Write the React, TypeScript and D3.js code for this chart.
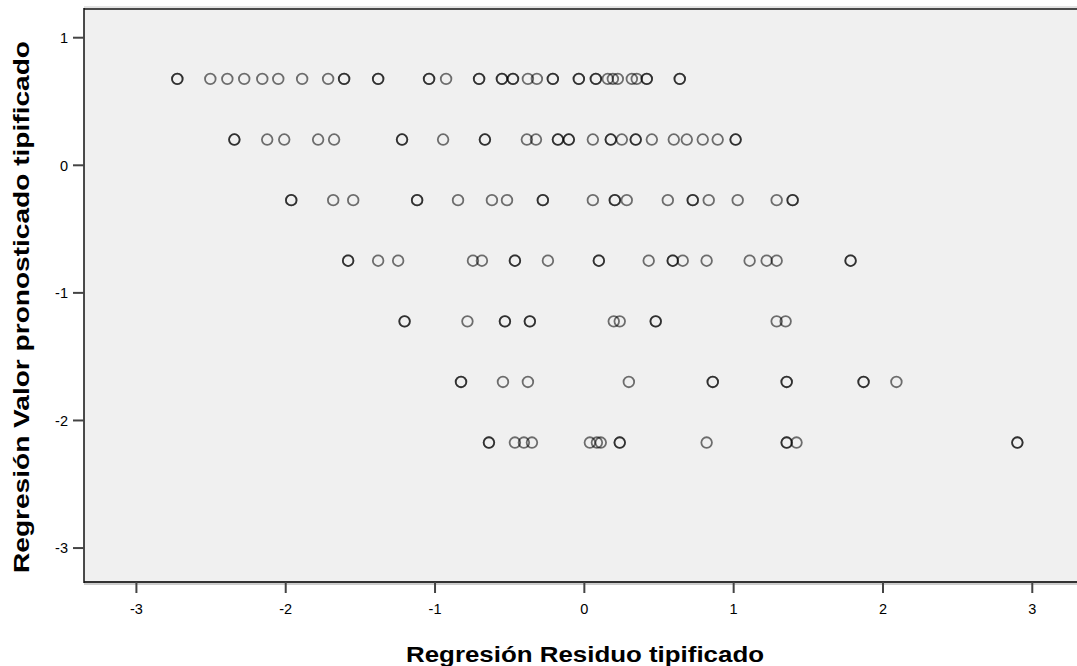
import React from "react";
import * as d3 from "d3";

// Predicted (standardized) levels, one per row of points
const predLevels = [0.677, 0.202, -0.273, -0.748, -1.223, -1.698, -2.173];

// Standardized residuals per predicted level (duplicates = overlapping cases)
const resid1 = [-2.726, -2.726, -2.505, -2.391, -2.278, -2.157, -2.05, -1.89, -1.716, -1.609, -1.609, -1.381, -1.381, -1.04, -1.04, -0.926, -0.705, -0.705, -0.552, -0.552, -0.478, -0.478, -0.378, -0.318, -0.211, -0.211, -0.037, -0.037, 0.077, 0.077, 0.157, 0.191, 0.224, 0.318, 0.351, 0.418, 0.418, 0.639, 0.639];
const resid2 = [-2.344, -2.344, -2.124, -2.01, -1.783, -1.676, -1.221, -1.221, -0.946, -0.666, -0.666, -0.385, -0.324, -0.177, -0.177, -0.104, -0.104, 0.057, 0.177, 0.177, 0.251, 0.344, 0.344, 0.452, 0.599, 0.686, 0.793, 0.893, 1.013, 1.013];
const resid3 = [-1.963, -1.963, -1.682, -1.548, -1.12, -1.12, -0.846, -0.619, -0.518, -0.278, -0.278, 0.057, 0.204, 0.204, 0.284, 0.559, 0.726, 0.726, 0.833, 1.027, 1.288, 1.395, 1.395];
const resid4 = [-1.582, -1.582, -1.381, -1.247, -0.746, -0.686, -0.465, -0.465, -0.244, 0.097, 0.097, 0.431, 0.592, 0.592, 0.659, 0.819, 1.107, 1.221, 1.288, 1.783, 1.783];
const resid5 = [-1.204, -1.204, -0.783, -0.532, -0.532, -0.365, -0.365, 0.197, 0.237, 0.478, 0.478, 1.288, 1.348];
const resid6 = [-0.826, -0.826, -0.545, -0.378, 0.298, 0.86, 0.86, 1.355, 1.355, 1.87, 1.87, 2.09];
const resid7 = [-0.639, -0.639, -0.465, -0.405, -0.351, 0.037, 0.084, 0.11, 0.237, 0.237, 0.819, 1.355, 1.355, 1.421, 2.9, 2.9];

const residRows = [resid1, resid2, resid3, resid4, resid5, resid6, resid7];

const xTicks = [-3, -2, -1, 0, 1, 2, 3];
const yTicks = [1, 0, -1, -2, -3];

const xTitle = "Regresión Residuo tipificado";
const yTitle = "Regresión Valor pronosticado tipificado";

const W = 1077;
const H = 666;
const plot = { left: 84, top: 9, right: 1095, bottom: 582 };

export default function App() {
  const x = d3.scaleLinear().domain([-3.351, 3.42]).range([plot.left, plot.right]);
  const y = d3.scaleLinear().domain([1.225, -3.266]).range([plot.top, plot.bottom]);

  const points: { x: number; y: number }[] = [];
  residRows.forEach((row, i) => {
    row.forEach((r) => points.push({ x: r, y: predLevels[i] }));
  });

  const font = "'Liberation Sans', Arial, sans-serif";
  const fmt = (t: number) => String(t);

  return (
    <div style={{ position: "absolute", left: 0, top: 0 }}>
      <svg width={W} height={H} style={{ display: "block", background: "#ffffff" }}>
        <rect x={plot.left} y={plot.top} width={plot.right - plot.left} height={plot.bottom - plot.top} fill="#f0f0f0" />
        {/* borders */}
        <line x1={plot.left} x2={W + 20} y1={plot.top - 2} y2={plot.top - 2} stroke="#c8c8c8" strokeWidth={1} />
        <line x1={plot.left} x2={W + 20} y1={plot.top} y2={plot.top} stroke="#4a4a4a" strokeWidth={2} />
        <line x1={plot.left} x2={W + 20} y1={plot.bottom} y2={plot.bottom} stroke="#333" strokeWidth={2} />
        <line x1={plot.left} x2={W + 20} y1={plot.bottom + 2} y2={plot.bottom + 2} stroke="#9a9a9a" strokeWidth={1} />
        <line x1={plot.left} x2={plot.left} y1={plot.top - 1} y2={plot.bottom + 1} stroke="#111" strokeWidth={1.5} />

        {/* y axis ticks */}
        {yTicks.map((t) => (
          <g key={"y" + t}>
            <line x1={plot.left - 11} x2={plot.left} y1={y(t)} y2={y(t)} stroke="#444" strokeWidth={2} />
            <text x={plot.left - 16} y={y(t)} dy="0.36em" textAnchor="end" fontFamily={font} fontSize={14.5} fill="#000">
              {fmt(t)}
            </text>
          </g>
        ))}
        {/* x axis ticks */}
        {xTicks.map((t) => (
          <g key={"x" + t}>
            <line x1={x(t)} x2={x(t)} y1={plot.bottom} y2={plot.bottom + 11} stroke="#444" strokeWidth={2} />
            <text x={x(t)} y={plot.bottom + 32} textAnchor="middle" fontFamily={font} fontSize={14.5} fill="#000">
              {fmt(t)}
            </text>
          </g>
        ))}

        {/* points */}
        {points.map((p, i) => (
          <circle key={i} cx={x(p.x)} cy={y(p.y)} r={5.3} fill="none" stroke="rgba(0,0,0,0.55)" strokeWidth={1.8} />
        ))}

        {/* titles */}
        <text x={585} y={662} textAnchor="middle" fontFamily={font} fontWeight="bold" fontSize={22} fill="#000"
          textLength={358} lengthAdjust="spacingAndGlyphs">
          {xTitle}
        </text>
        <text transform={`translate(29, ${307}) rotate(-90)`} textAnchor="middle" fontFamily={font} fontWeight="bold" fontSize={22} fill="#000"
          textLength={532} lengthAdjust="spacingAndGlyphs">
          {yTitle}
        </text>
      </svg>
    </div>
  );
}
